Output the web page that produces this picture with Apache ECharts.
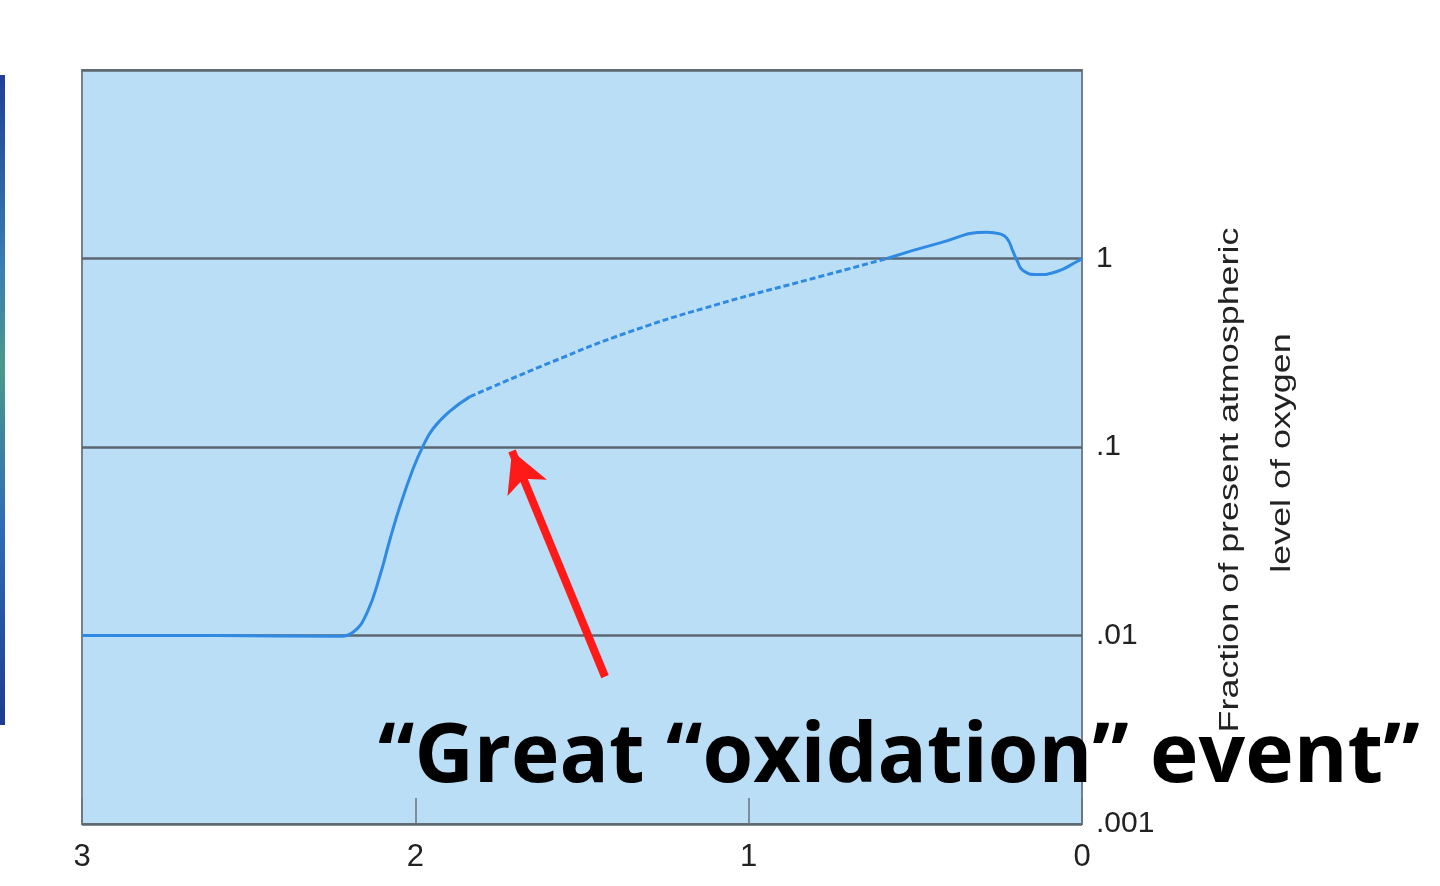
<!DOCTYPE html>
<html>
<head>
<meta charset="utf-8">
<title>Great oxidation event</title>
<script src="https://cdn.jsdelivr.net/npm/echarts@6/dist/echarts.min.js"></script>
<style>
  html, body { margin: 0; padding: 0; background: #fff; }
  #main { width: 1440px; height: 886px; }
</style>
</head>
<body>
<div id="main"></div>
<script>
// billions of years ago (axis runs 3 -> 0)
var ageTicks = [3, 2, 1, 0];
var o2Ticks = [10, 1, 0.1, 0.01, 0.001];
var o2TickLabels = ['', '1', '.1', '.01', '.001'];

// early part of the curve (solid)
var earlyAge = [3, 2.6, 2.235, 2.187, 2.145, 2.106, 2.076, 2.046, 2.007, 1.977, 1.947, 1.896, 1.836];
var earlyO2 = [0.01, 0.01, 0.0099, 0.0104, 0.0132, 0.0208, 0.0324, 0.0486, 0.0764, 0.101, 0.125, 0.155, 0.185];

// uncertain middle part (dashed)
var dashAge = [1.836, 1.596, 1.356, 1.086, 0.786, 0.585];
var dashO2 = [0.185, 0.280, 0.409, 0.576, 0.802, 1.0];

// recent part (solid)
var lateAge = [0.585, 0.426, 0.285, 0.246, 0.225, 0.207, 0.195, 0.177, 0.135, 0.075, 0.015, 0];
var lateO2 = [1.0, 1.21, 1.38, 1.35, 1.28, 1.09, 0.976, 0.863, 0.822, 0.853, 0.964, 1.0];

// arrow annotation: tail -> tip (age, fraction)
var arrowTip = [1.71, 0.0953];
var arrowTail = [1.431, 0.00605];

var titleText = '\u201cGreat \u201coxidation\u201d event\u201d';
var axisName1 = 'Fraction of present atmospheric';
var axisName2 = 'level of oxygen';

function pairs(xs, ys) {
  return xs.map(function (x, i) { return [x, ys[i]]; });
}

var chart = echarts.init(document.getElementById('main'));

var lineColor = '#2f8ae3';
var gridColor = '#5b6670';

var option = {
  animation: false,
  grid: {
    left: 82,
    right: 358,
    top: 70,
    bottom: 62,
    show: true,
    backgroundColor: '#bbdef7',
    borderColor: '#75808a',
    borderWidth: 2
  },
  xAxis: {
    type: 'value',
    inverse: true,
    min: 0,
    max: 3,
    interval: 1,
    axisLine: { show: false },
    axisTick: { show: true, inside: true, length: 26, lineStyle: { color: '#6a737c', width: 1.5 } },
    splitLine: { show: false },
    axisLabel: {
      margin: 18,
      fontSize: 31,
      fontFamily: 'Liberation Sans',
      color: '#222',
      formatter: function (v) { return ageTicks.indexOf(v) >= 0 ? String(v) : ''; }
    }
  },
  yAxis: {
    type: 'log',
    position: 'right',
    logBase: 10,
    min: 0.001,
    max: 10,
    axisLine: { show: false },
    axisTick: { show: false },
    splitLine: { show: true, lineStyle: { color: gridColor, width: 2.5 } },
    axisLabel: {
      margin: 14,
      fontSize: 30,
      fontFamily: 'Liberation Sans',
      color: '#222',
      formatter: function (v) {
        for (var i = 0; i < o2Ticks.length; i++) {
          if (Math.abs(v - o2Ticks[i]) / o2Ticks[i] < 1e-6) return o2TickLabels[i];
        }
        return '';
      }
    }
  },
  series: [
    {
      type: 'line',
      data: pairs(earlyAge, earlyO2),
      smooth: 0.45,
      symbol: 'none',
      lineStyle: { color: lineColor, width: 3 },
      z: 3
    },
    {
      type: 'line',
      data: pairs(dashAge, dashO2),
      smooth: 0.5,
      symbol: 'none',
      lineStyle: { color: lineColor, width: 3, type: [6, 3] },
      z: 3
    },
    {
      type: 'line',
      data: pairs(lateAge, lateO2),
      smooth: 0.5,
      symbol: 'none',
      lineStyle: { color: lineColor, width: 3 },
      z: 3,
      markLine: {
        silent: true,
        symbol: ['none', 'arrow'],
        symbolSize: [32, 40],
        label: { show: false },
        lineStyle: { color: '#ff1a1a', width: 8, type: 'solid' },
        data: [[{ coord: arrowTail }, { coord: arrowTip }]]
      }
    }
  ],
  graphic: [
    {
      type: 'rect',
      left: 0,
      top: 75,
      shape: { width: 5, height: 650 },
      style: {
        fill: new echarts.graphic.LinearGradient(0, 0, 0, 1, [
          { offset: 0, color: '#1f3f9a' },
          { offset: 0.3, color: '#3a7fb0' },
          { offset: 0.45, color: '#4a9a8a' },
          { offset: 0.7, color: '#2f6ab8' },
          { offset: 1, color: '#1c3c90' }
        ])
      }
    },
    {
      type: 'text',
      x: 1231,
      y: 480,
      rotation: Math.PI / 2,
      scaleX: 1.33,
      style: {
        text: axisName1,
        font: '27px "Liberation Sans"',
        fill: '#222',
        align: 'center',
        verticalAlign: 'middle'
      }
    },
    {
      type: 'text',
      x: 1283,
      y: 453,
      rotation: Math.PI / 2,
      scaleX: 1.33,
      style: {
        text: axisName2,
        font: '27px "Liberation Sans"',
        fill: '#222',
        align: 'center',
        verticalAlign: 'middle'
      }
    },
    {
      type: 'text',
      x: 378,
      y: 759,
      z: 100,
      style: {
        text: titleText,
        font: 'bold 82px "Open Sans"',
        fill: '#000',
        align: 'left',
        verticalAlign: 'middle'
      }
    }
  ]
};

chart.setOption(option);
</script>
</body>
</html>
